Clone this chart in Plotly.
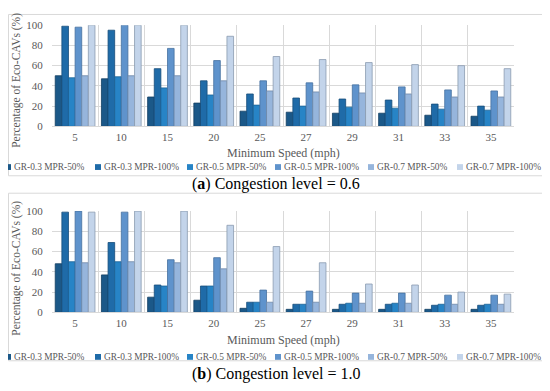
import plotly.graph_objects as go

# ---------------- data ----------------
categories = ["5", "10", "15", "20", "25", "27", "29", "31", "33", "35"]
series_names = ["GR-0.3 MPR-50%", "GR-0.3 MPR-100%", "GR-0.5 MPR-50%",
                "GR-0.5 MPR-100%", "GR-0.7 MPR-50%", "GR-0.7 MPR-100%"]

# (a) Congestion level = 0.6
a_gr03_mpr50 = [50, 47, 29, 23, 15, 14, 13, 13, 11, 10]
a_gr03_mpr100 = [99, 95, 57, 45, 32, 28, 27, 26, 22, 20]
a_gr05_mpr50 = [48, 49, 38, 31, 21, 20, 19, 18, 17, 16]
a_gr05_mpr100 = [98, 100, 77, 65, 45, 43, 41, 39, 36, 35]
a_gr07_mpr50 = [50, 50, 50, 45, 35, 34, 33, 32, 29, 29]
a_gr07_mpr100 = [100, 100, 100, 89, 69, 66, 63, 61, 60, 57]

# (b) Congestion level = 1.0
b_gr03_mpr50 = [48, 37, 15, 12, 4, 3, 3, 3, 3, 3]
b_gr03_mpr100 = [99, 69, 27, 26, 10, 8, 8, 8, 7, 7]
b_gr05_mpr50 = [50, 50, 26, 26, 10, 8, 9, 9, 8, 8]
b_gr05_mpr100 = [100, 99, 52, 54, 22, 21, 19, 19, 17, 17]
b_gr07_mpr50 = [49, 50, 49, 43, 10, 10, 9, 9, 8, 8]
b_gr07_mpr100 = [99, 100, 100, 86, 65, 49, 28, 27, 20, 18]

y_ticks = [0, 20, 40, 60, 80, 100]
caption_a = "(<b>a</b>) Congestion level = 0.6"
caption_b = "(<b>b</b>) Congestion level = 1.0"
x_title = "Minimum Speed (mph)"
y_title = "Percentage of Eco-CAVs (%)"

colors = ["#1B5888", "#1F6BA8", "#2784C6", "#5F93CC", "#96B5DC", "#C3D4EA"]
edge = ["#123E61", "#164D7A", "#1B6296", "#46719F", "#6F88A8", "#8A9AB0"]

# The page body has an 8px margin; size the figure so it fills the window.
OFF = 8
W, H = 550 - OFF, 391 - OFF
FONT = "Liberation Serif"
GRAY = "#595959"


def px(x):
    return (x - OFF) / W


def py(y):
    return 1 - (y - OFF) / H


fig = go.Figure()

panels = [
    dict(data=[a_gr03_mpr50, a_gr03_mpr100, a_gr05_mpr50, a_gr05_mpr100, a_gr07_mpr50, a_gr07_mpr100],
         xa="x", ya="y", box=(8.5, 175), title_y=152,
         leg_y=166, cap_y=184, cap=caption_a, ytitle_y=77),
    dict(data=[b_gr03_mpr50, b_gr03_mpr100, b_gr05_mpr50, b_gr05_mpr100, b_gr07_mpr50, b_gr07_mpr100],
         xa="x2", ya="y2", box=(193, 366), title_y=345,
         leg_y=362, cap_y=380, cap=caption_b, ytitle_y=271),
]

shapes = []
annotations = []
legend_sq_x = [7, 97, 189, 277, 370, 459]

for p in panels:
    for i, (name, vals) in enumerate(zip(series_names, p["data"])):
        fig.add_trace(go.Bar(
            x=categories, y=vals, name=name, xaxis=p["xa"], yaxis=p["ya"],
            marker=dict(color=colors[i], line=dict(color=edge[i], width=0.8)),
            showlegend=False,
        ))
    # panel border
    shapes.append(dict(type="rect", xref="paper", yref="paper",
                       x0=px(8.5), x1=px(549), y0=py(p["box"][1]), y1=py(p["box"][0]),
                       line=dict(color="#D9D9D9", width=1), layer="below"))
    # axis titles
    annotations.append(dict(text=x_title, x=px(283), y=py(p["title_y"]), xref="paper", yref="paper",
                            showarrow=False, font=dict(family=FONT, size=12, color=GRAY),
                            xanchor="center", yanchor="middle"))
    annotations.append(dict(text=y_title, x=px(17), y=py(p["ytitle_y"]), xref="paper", yref="paper",
                            showarrow=False, textangle=-90, font=dict(family=FONT, size=11.5, color=GRAY),
                            xanchor="center", yanchor="middle"))
    # caption
    annotations.append(dict(text=p["cap"], x=px(276), y=py(p["cap_y"]), xref="paper", yref="paper",
                            showarrow=False, font=dict(family=FONT, size=16, color="#000000"),
                            xanchor="center", yanchor="middle"))
    # legend (drawn by hand so that it fits one row like the reference)
    for i, name in enumerate(series_names):
        sx = legend_sq_x[i]
        shapes.append(dict(type="rect", xref="paper", yref="paper",
                           x0=px(sx - 2), x1=px(sx + 4), y0=py(p["leg_y"] + 3), y1=py(p["leg_y"] - 3),
                           fillcolor=colors[i], line=dict(width=0)))
        annotations.append(dict(text=name, x=px(sx + 5), y=py(p["leg_y"]), xref="paper", yref="paper",
                                showarrow=False, font=dict(family=FONT, size=9.4, color=GRAY),
                                xanchor="left", yanchor="middle"))

x_dom = [px(52), px(514)]
axis_common_x = dict(domain=x_dom, type="category", showgrid=True, gridcolor="#D9D9D9", gridwidth=1,
                     tickson="boundaries", ticks="outside", ticklen=6, tickcolor="rgba(0,0,0,0)",
                     showline=True, linecolor="#D9D9D9",
                     tickfont=dict(family=FONT, size=11, color=GRAY), zeroline=False)
axis_common_y = dict(range=[0, 100], tickvals=y_ticks, showgrid=True, gridcolor="#D9D9D9",
                     gridwidth=1, zeroline=False, showline=False, ticks="outside", ticklen=6,
                     tickcolor="rgba(0,0,0,0)",
                     tickfont=dict(family=FONT, size=11, color=GRAY))

fig.update_layout(
    width=W, height=H,
    margin=dict(l=0, r=0, t=0, b=0),
    paper_bgcolor="white", plot_bgcolor="white",
    barmode="group", bargap=0.14, bargroupgap=0,
    xaxis=dict(**axis_common_x, anchor="y"),
    yaxis=dict(**axis_common_y, domain=[py(124), py(19.5)], anchor="x"),
    xaxis2=dict(**axis_common_x, anchor="y2"),
    yaxis2=dict(**axis_common_y, domain=[py(316), py(211.5)], anchor="x2"),
    shapes=shapes,
    annotations=annotations,
    showlegend=False,
)

fig.write_html("out.html")
